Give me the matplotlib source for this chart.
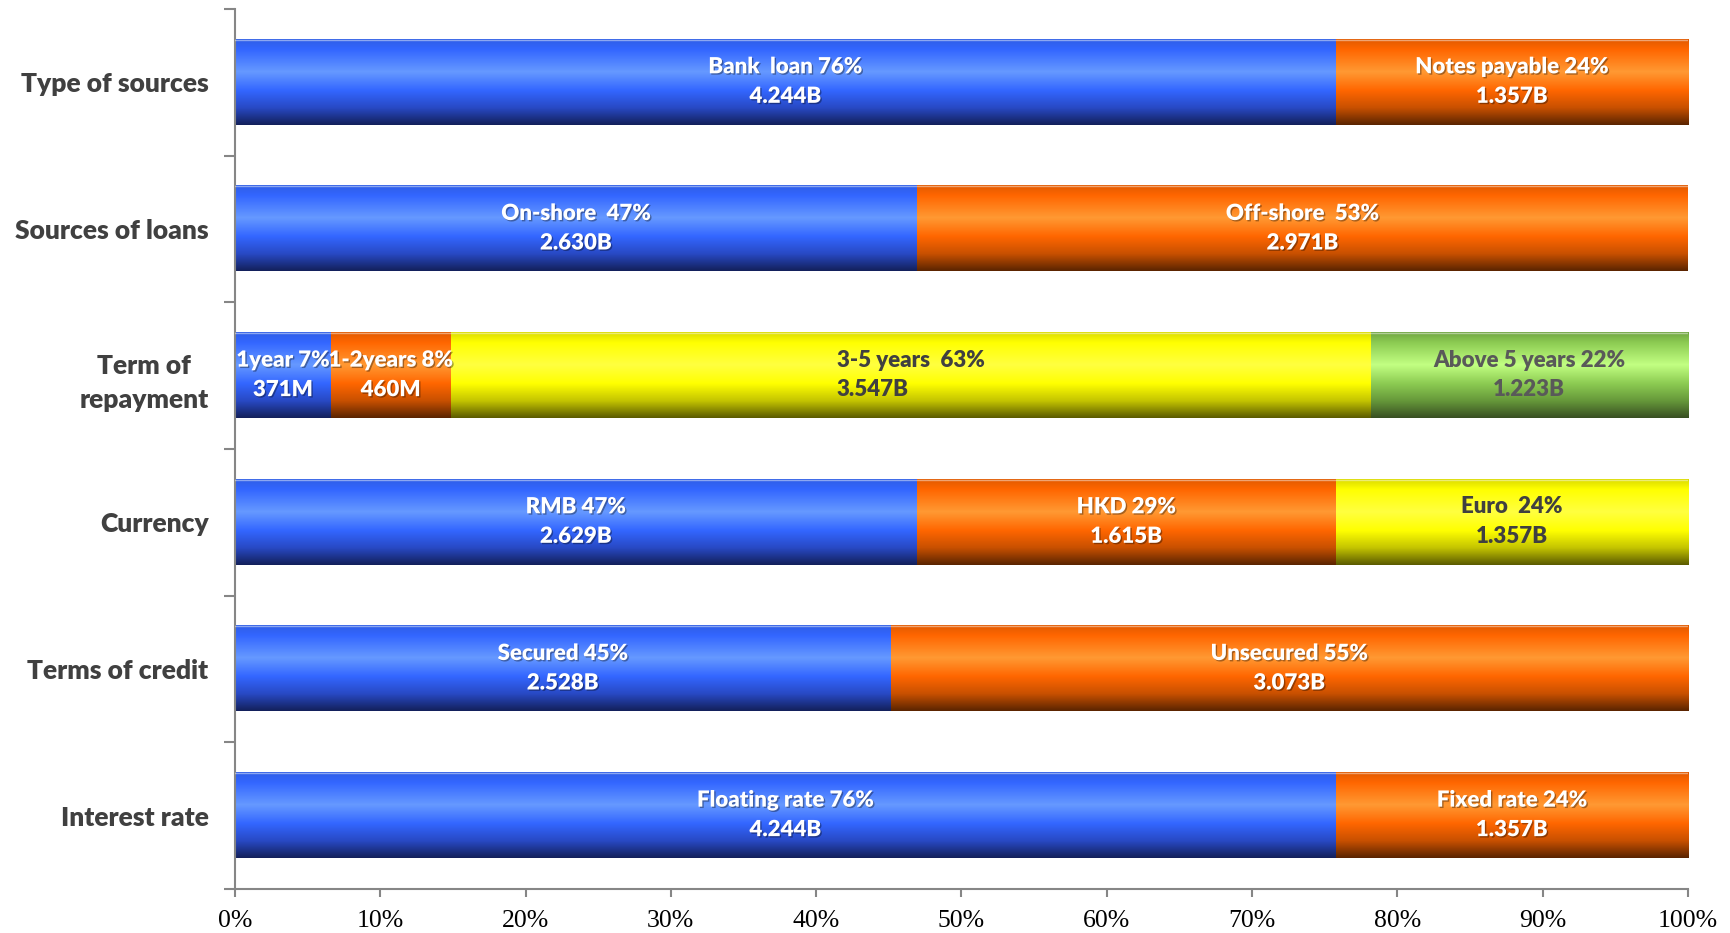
import numpy as np
import matplotlib
matplotlib.use("Agg")
import matplotlib.pyplot as plt
import matplotlib.patheffects as pe
from matplotlib.colors import LinearSegmentedColormap

# financing breakdown, amounts in millions
categories = ["Type of sources", "Sources of loans", "Term of\nrepayment",
              "Currency", "Terms of credit", "Interest rate"]
seg_names = [
    ["Bank  loan ", "Notes payable "],
    ["On-shore  ", "Off-shore  "],
    ["1year ", "1-2years ", "3-5 years  ", "Above 5 years "],
    ["RMB ", "HKD ", "Euro  "],
    ["Secured ", "Unsecured "],
    ["Floating rate ", "Fixed rate "],
]
seg_amounts = [
    [4244, 1357],
    [2630, 2971],
    [371, 460, 3547, 1223],
    [2629, 1615, 1357],
    [2528, 3073],
    [4244, 1357],
]
seg_colors = [
    ["blue", "orange"],
    ["blue", "orange"],
    ["blue", "orange", "yellow", "green"],
    ["blue", "orange", "yellow"],
    ["blue", "orange"],
    ["blue", "orange"],
]
xticks = np.arange(0, 101, 10)

# vertical gradient stops, top of bar -> bottom of bar
stops = [0.0, 0.12, 0.38, 0.6, 0.8, 1.0]
gradients = {
    "blue":   ["#2f5ee6", "#3366ff", "#6699ff", "#3366ff", "#2849c4", "#13205a"],
    "orange": ["#e05a00", "#ff6600", "#ff9933", "#ff6600", "#c85000", "#5a2400"],
    "yellow": ["#dada00", "#ffff00", "#ffff40", "#ffff00", "#c4c400", "#5a5a00"],
    "green":  ["#70a442", "#8ccb52", "#c2ff82", "#8ccb52", "#66983a", "#384f22"],
}
text_colors = {"blue": "white", "orange": "white", "yellow": "#404040", "green": "#595959"}

cmaps = {k: LinearSegmentedColormap.from_list(k, list(zip(stops, v))) for k, v in gradients.items()}
grad = np.linspace(0, 1, 256).reshape(-1, 1)

fig = plt.figure(figsize=(17.3, 9.33), dpi=100)
ax = fig.add_axes([0.1358, 0.0472, 0.8399, 0.9432])

bar_h = 0.58
n = len(categories)
for i in range(n):
    y = n - 1 - i
    vals = np.array(seg_amounts[i], dtype=float)
    total = vals.sum()
    pct = vals / total * 100
    left = 0.0
    for name, v, p, c in zip(seg_names[i], vals, pct, seg_colors[i]):
        ax.imshow(grad, cmap=cmaps[c], aspect="auto", interpolation="bilinear",
                  extent=(left, left + p, y - bar_h / 2, y + bar_h / 2), zorder=2)
        amt = f"{v:.0f}M" if v < 1000 else f"{v / 1000:.3f}B"
        label = f"{name}{p:.0f}%\n{amt}"
        tc = text_colors[c]
        effects = None
        if tc == "white":
            effects = [pe.SimplePatchShadow(offset=(1, -1), shadow_rgbFace="black", alpha=0.35),
                       pe.Normal()]
        ax.text(left + p / 2, y + 0.005, label, ha="center", va="center",
                multialignment="left" if name.startswith("3-5") else "center",
                color=tc, fontsize=16, fontweight="heavy", family="Lato",
                linespacing=1.5, zorder=3, path_effects=effects)
        left += p
    # light rim along the top edge of each bar
    ax.plot([0, 100], [y + bar_h / 2, y + bar_h / 2], color="white", alpha=0.45, lw=1, zorder=3)

ax.set_xlim(0, 100)
ax.set_ylim(-0.5, n - 0.5)

ax.set_xticks(xticks)
ax.set_xticklabels([f"{t}%" for t in xticks], family="Liberation Serif", fontsize=18.5)
ax.set_yticks(np.arange(-0.5, n, 1.0))
ax.set_yticklabels([])
ax.set_yticks(np.arange(n), minor=True)
ax.set_yticklabels(categories[::-1], minor=True, family="Lato", fontweight="heavy",
                   fontsize=19, color="#404040", multialignment="center",
                   linespacing=1.5)
ax.tick_params(axis="y", which="minor", length=0, pad=19)
ax.tick_params(axis="y", which="major", length=8, width=1.5, color="#868686")
ax.tick_params(axis="x", length=6, width=1.5, color="#868686", pad=9)

for s in ["top", "right"]:
    ax.spines[s].set_visible(False)
for s in ["left", "bottom"]:
    ax.spines[s].set_color("#868686")
    ax.spines[s].set_linewidth(1.5)

fig.savefig("out.png", dpi=100)
